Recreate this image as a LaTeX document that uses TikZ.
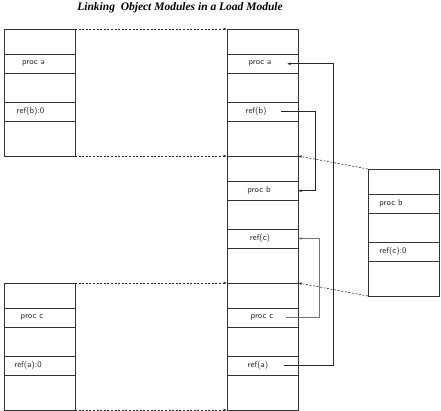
\documentclass[tikz,border=0pt]{standalone}
\usepackage{fontspec}
\newfontfamily\titlefont{Liberation Serif}
\usetikzlibrary{arrows.meta}

\tikzset{
  cell/.style={draw=black!80, line width=0.65pt, minimum width=71pt,
    inner sep=0pt, outer sep=0pt, anchor=north west},
  lbl/.style={font=\sffamily\fontsize{8.5}{10}\selectfont, inner sep=0pt, text=black!85},
  link/.style={draw=black!85, line width=0.55pt, -{Latex[length=3.5pt,width=2.6pt]}},
  reloc/.style={link, dash pattern=on 2pt off 1.6pt},
}

% One module: five stacked cells, named #1r1 ... #1r5, top-left corner at (#2,#3)
\newcommand{\objmodule}[3]{%
  \node[cell, minimum height=25pt]   (#1r1) at (#2,#3) {};
  \node[cell, minimum height=19.5pt] (#1r2) at (#1r1.south west) {};
  \node[cell, minimum height=28.5pt] (#1r3) at (#1r2.south west) {};
  \node[cell, minimum height=19pt]   (#1r4) at (#1r3.south west) {};
  \node[cell, minimum height=35pt]   (#1r5) at (#1r4.south west) {};
}

\begin{document}
\begin{tikzpicture}[x=1pt, y=-1pt]
  \useasboundingbox (0,0) rectangle (441,411);

  \node (title) at (180,7.5)
    {\titlefont\bfseries\itshape\fontsize{11.5}{13}\selectfont Linking\ \ Object\ Modules\ in\ a\ Load\ Module};

  % object modules
  \objmodule{A}{4}{29}
  \objmodule{B}{368}{169}
  \objmodule{C}{4}{283}
  % load module, three segments
  \objmodule{La}{227}{29}
  \objmodule{Lb}{227}{156}
  \objmodule{Lc}{227}{283}

  % texts
  \node[lbl] (tApa) at ([xshift=-6pt]Ar2.center)   {proc a};
  \node[lbl] (tArb) at ([xshift=-9pt]Ar4.center)   {ref(b):0};
  \node[lbl] (tBpb) at ([xshift=-12.5pt]Br2.center) {proc b};
  \node[lbl] (tBrc) at ([xshift=-10.5pt]Br4.center) {ref(c):0};
  \node[lbl] (tCpc) at ([xshift=-7.5pt]Cr2.center) {proc c};
  \node[lbl] (tCra) at ([xshift=-11.5pt]Cr4.center) {ref(a):0};
  \node[lbl] (tLpa) at ([xshift=-2.5pt]Lar2.center) {proc a};
  \node[lbl] (tLrb) at ([xshift=-6.5pt]Lar4.center) {ref(b)};
  \node[lbl] (tLpb) at ([xshift=-3.5pt]Lbr2.center) {proc b};
  \node[lbl] (tLrc) at ([xshift=-2.5pt]Lbr4.center) {ref(c)};
  \node[lbl] (tLpc) at ([xshift=-0.5pt]Lcr2.center) {proc c};
  \node[lbl] (tLra) at ([xshift=-4.5pt]Lcr4.center) {ref(a)};

  % relocation of each module into the load module
  \draw[reloc] (Ar1.north east) -- (Lar1.north west);
  \draw[reloc] (Ar5.south east) -- (Lar5.south west);
  \draw[reloc] (Br1.north west) -- (Lbr1.north east);
  \draw[reloc] (Br5.south west) -- (Lbr5.south east);
  \draw[reloc] (Cr1.north east) -- (Lcr1.north west);
  \draw[reloc] (Cr5.south east) -- (Lcr5.south west);

  % resolved references
  \coordinate (busA) at (333,0);
  \coordinate (busB) at (315.5,0);
  \coordinate (busC) at (319,0);
  \draw[link] ([xshift=-14pt]Lcr4.east) -| (busA |- Lar2.east) -- ([xshift=-11pt]Lar2.east);
  \draw[link] ([xshift=-17pt]Lar4.east) -| (busB |- Lbr2.east) -- (Lbr2.east);
  \draw[link, draw=black!55] ([xshift=-12pt]Lcr2.east) -| (busC |- Lbr4.east) -- (Lbr4.east);
\end{tikzpicture}
\end{document}
